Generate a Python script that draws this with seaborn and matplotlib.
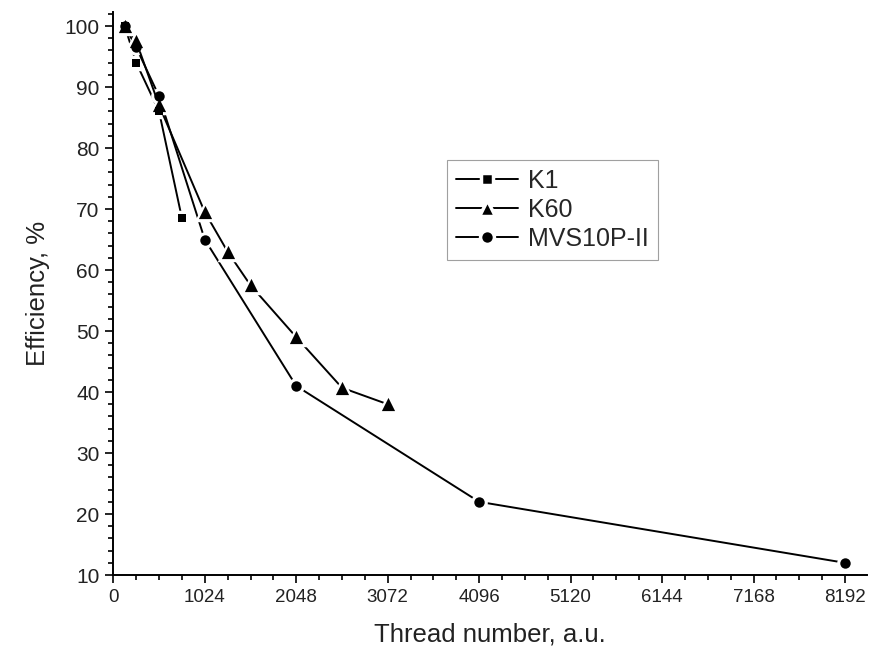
import matplotlib
matplotlib.use("Agg")
import matplotlib.pyplot as plt
from matplotlib.ticker import MultipleLocator
import pandas as pd
import seaborn as sns

# Parallel efficiency measured on three clusters
k1_threads = [128, 256, 512, 768]
k1_eff = [100, 94, 86, 68.5]

k60_threads = [128, 256, 512, 1024, 1280, 1536, 2048, 2560, 3072]
k60_eff = [100, 97.5, 87, 69.5, 63, 57.5, 49, 40.7, 38]

mvs_threads = [128, 256, 512, 1024, 2048, 4096, 8192]
mvs_eff = [100, 96.5, 88.5, 65, 41, 22, 12]

series_names = ["K1", "MVS10P-II", "K60"]
legend_order = ["K1", "K60", "MVS10P-II"]
x_ticks = [0, 1024, 2048, 3072, 4096, 5120, 6144, 7168, 8192]
y_ticks = [10, 20, 30, 40, 50, 60, 70, 80, 90, 100]

df = pd.concat([
    pd.DataFrame({"threads": k1_threads, "eff": k1_eff, "system": "K1"}),
    pd.DataFrame({"threads": k60_threads, "eff": k60_eff, "system": "K60"}),
    pd.DataFrame({"threads": mvs_threads, "eff": mvs_eff, "system": "MVS10P-II"}),
], ignore_index=True)

sns.set_style("ticks")
plt.rcParams["font.family"] = ["Liberation Sans", "DejaVu Sans"]

fig = plt.figure(figsize=(8.73, 6.55), dpi=100)
ax = fig.add_axes([0.1298, 0.1221, 0.8635, 0.8596])

markers = {"K1": "s", "K60": "^", "MVS10P-II": "o"}
sizes = {"K1": 6.3, "K60": 9.5, "MVS10P-II": 7.5}
layer = {"K1": 5, "MVS10P-II": 6, "K60": 7}

# connecting lines first; white symbol rims cut a small gap around each point
for name in series_names:
    sub = df[df["system"] == name]
    sns.lineplot(data=sub, x="threads", y="eff", ax=ax, color="black",
                 marker=markers[name], markersize=sizes[name] + 2,
                 markerfacecolor="white", markeredgecolor="white",
                 markeredgewidth=2.5, linewidth=1.4, estimator=None,
                 sort=False, legend=False)

# solid symbols on top of all lines
for name in series_names:
    sub = df[df["system"] == name]
    sns.scatterplot(data=sub, x="threads", y="eff", ax=ax, color="black",
                    marker=markers[name], s=sizes[name] ** 2, linewidth=0,
                    legend=False, zorder=layer[name])

ax.set_xlim(0, 8440)
ax.set_ylim(10, 102.3)
ax.set_xticks(x_ticks)
ax.set_yticks(y_ticks)
ax.xaxis.set_minor_locator(MultipleLocator(256))
ax.yaxis.set_minor_locator(MultipleLocator(2))
ax.tick_params(axis="both", which="major", direction="out", length=6, width=1.2,
               colors="black", pad=4)
ax.tick_params(axis="x", which="major", labelsize=13.5)
ax.tick_params(axis="y", which="major", labelsize=15)
ax.tick_params(axis="both", which="minor", direction="out", length=3.5, width=1.2,
               colors="black")
for lab in ax.get_xticklabels() + ax.get_yticklabels():
    lab.set_color("#222222")

for side in ["top", "right"]:
    ax.spines[side].set_visible(False)
for side in ["left", "bottom"]:
    ax.spines[side].set_linewidth(1.4)
    ax.spines[side].set_color("black")

ax.set_xlabel("Thread number, a.u.", fontsize=18.5, color="#222222", labelpad=12)
ax.set_ylabel("Efficiency, %", fontsize=18.5, color="#222222", labelpad=10)

# legend keys: line, gap, symbol, gap, line
handles = [
    plt.Line2D([], [], color="black", linewidth=1.4, marker=markers[n],
               markersize=sizes[n] + 2.5, markerfacecolor="black",
               markeredgecolor="white", markeredgewidth=2.5)
    for n in legend_order
]
leg = ax.legend(handles, legend_order, loc="upper left",
                bbox_to_anchor=(0.4427, 0.737), borderaxespad=0, fontsize=18,
                handlelength=2.5, handletextpad=0.4, borderpad=0.35,
                labelspacing=0.2, frameon=True, fancybox=False)
leg.get_frame().set_edgecolor("#888888")
leg.get_frame().set_linewidth(0.8)
leg.set_zorder(10)

fig.savefig("out.png", dpi=100, facecolor="white")
